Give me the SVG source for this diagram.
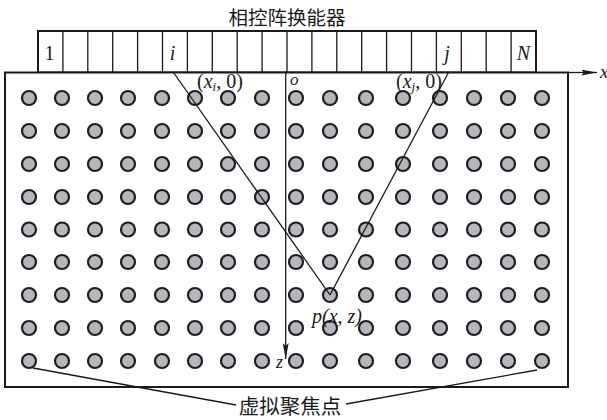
<svg xmlns="http://www.w3.org/2000/svg" xmlns:xlink="http://www.w3.org/1999/xlink" width="607" height="420" viewBox="0 0 607 420">
<style>
.ln{stroke:#1a1a1a;stroke-width:1.3;fill:none}
.box{stroke:#1a1a1a;stroke-width:2;fill:#fff}
.dot{fill:#b6b6be;stroke:#1e1e1e;stroke-width:2.2}
.it{font-family:"Liberation Serif","Times New Roman",serif;font-style:italic;fill:#1a1a1a}
.rm{font-family:"Liberation Serif","Times New Roman",serif;fill:#1a1a1a}
.cn{font-family:"Noto Sans CJK SC","Noto Sans",sans-serif;fill:#1a1a1a}
</style>
<defs>
<marker id="ar" viewBox="0 0 16 6" refX="16" refY="3" markerWidth="16" markerHeight="6" markerUnits="userSpaceOnUse" orient="auto">
<path d="M0,0 L16,3 L0,6 L3,3 Z" fill="#1a1a1a"/>
</marker>
<g id="row">
<circle class="dot" cx="29" cy="0" r="7"/>
<circle class="dot" cx="62" cy="0" r="7"/>
<circle class="dot" cx="95" cy="0" r="7"/>
<circle class="dot" cx="128" cy="0" r="7"/>
<circle class="dot" cx="162" cy="0" r="7"/>
<circle class="dot" cx="195" cy="0" r="7"/>
<circle class="dot" cx="228" cy="0" r="7"/>
<circle class="dot" cx="262" cy="0" r="7"/>
<circle class="dot" cx="296" cy="0" r="7"/>
<circle class="dot" cx="330" cy="0" r="7"/>
<circle class="dot" cx="366" cy="0" r="7"/>
<circle class="dot" cx="403" cy="0" r="7"/>
<circle class="dot" cx="440" cy="0" r="7"/>
<circle class="dot" cx="474" cy="0" r="7"/>
<circle class="dot" cx="508" cy="0" r="7"/>
<circle class="dot" cx="542" cy="0" r="7"/>
</g>
</defs>

<g id="title"><text class="cn" x="287" y="25" font-size="19.5" text-anchor="middle">相控阵换能器</text></g>

<g id="transducer">
<rect class="box" x="38" y="31" width="498" height="41.5"/>
<path class="ln" d="M62.9,31V72.5M87.8,31V72.5M112.7,31V72.5M137.6,31V72.5M162.5,31V72.5M187.4,31V72.5M212.3,31V72.5M237.2,31V72.5M262.1,31V72.5M287,31V72.5M311.9,31V72.5M336.8,31V72.5M361.7,31V72.5M386.6,31V72.5M411.5,31V72.5M436.4,31V72.5M461.3,31V72.5M486.2,31V72.5M511.1,31V72.5"/>
<text class="rm" x="49.5" y="59.5" font-size="20" text-anchor="middle">1</text>
<text class="it" x="172.5" y="59.5" font-size="20" text-anchor="middle">i</text>
<text class="it" x="447" y="59.5" font-size="20" text-anchor="middle">j</text>
<text class="it" x="523.5" y="59.5" font-size="20" text-anchor="middle">N</text>
</g>

<g id="field">
<rect class="box" x="5" y="72.5" width="563" height="314.5"/>
</g>

<g id="dots">
<use xlink:href="#row" href="#row" y="98"/>
<use xlink:href="#row" href="#row" y="131"/>
<use xlink:href="#row" href="#row" y="164"/>
<use xlink:href="#row" href="#row" y="197"/>
<use xlink:href="#row" href="#row" y="229.5"/>
<use xlink:href="#row" href="#row" y="262"/>
<use xlink:href="#row" href="#row" y="295"/>
<use xlink:href="#row" href="#row" y="328"/>
<use xlink:href="#row" href="#row" y="361"/>
</g>

<g id="connectors">
<line class="ln" x1="568" y1="72.5" x2="597" y2="72.5" marker-end="url(#ar)"/>
<line class="ln" x1="285.7" y1="72.5" x2="285.7" y2="359" marker-end="url(#ar)"/>
<line class="ln" x1="173.5" y1="72.5" x2="330" y2="295"/>
<line class="ln" x1="448.5" y1="72.5" x2="330" y2="295"/>
<line class="ln" x1="33" y1="368" x2="236" y2="405"/>
<line class="ln" x1="537" y1="370" x2="346" y2="404"/>
</g>

<g id="labels">
<text class="it" x="600" y="78" font-size="19">x</text>
<text class="it" x="290" y="85" font-size="17">o</text>
<text class="rm" x="197" y="88" font-size="20">(<tspan class="it">x</tspan><tspan class="it" font-size="13" dy="3">i</tspan><tspan dy="-3">, 0)</tspan></text>
<text class="rm" x="396" y="88" font-size="20">(<tspan class="it">x</tspan><tspan class="it" font-size="13" dy="3">j</tspan><tspan dy="-3">, 0)</tspan></text>
<text class="it" x="312" y="323" font-size="20">p<tspan class="rm">(</tspan>x<tspan class="rm">, </tspan>z<tspan class="rm">)</tspan></text>
<text class="it" x="276" y="368" font-size="18">z</text>
<text class="cn" x="290" y="414" font-size="20.5" text-anchor="middle">虚拟聚焦点</text>
</g>
</svg>
